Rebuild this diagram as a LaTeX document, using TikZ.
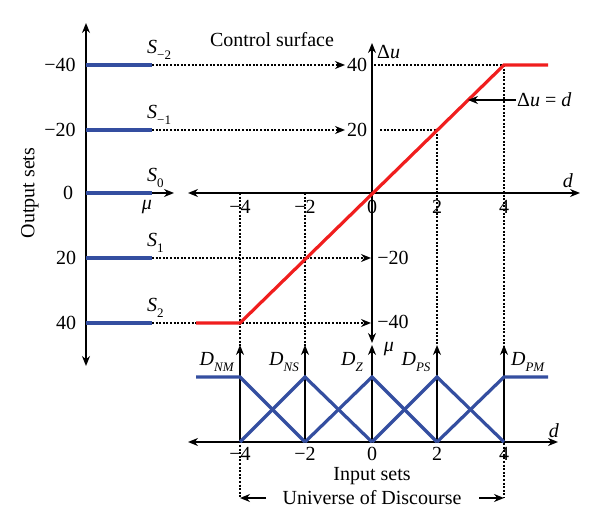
\documentclass[tikz,border=0pt]{standalone}
\usepackage{fontspec}
\setmainfont{Liberation Serif}
\usetikzlibrary{arrows.meta}
\newcommand\lowsub[1]{\raisebox{-0.3em}{\fontsize{13}{14}\selectfont #1}}
\begin{document}
\begin{tikzpicture}[x=1pt,y=-1pt,
  axis/.style={line width=1.6pt,{Stealth[length=10pt,width=8pt]}-{Stealth[length=10pt,width=8pt]}},
  arr/.style={line width=1.6pt,-{Stealth[length=10pt,width=8pt]}},
  dots/.style={line width=1.5pt,dash pattern=on 2pt off 1.6pt},
  dotarr/.style={dots,-{Stealth[length=10pt,width=8pt]}},
  bluel/.style={line width=3.2pt,color={rgb,255:red,52;green,78;blue,160}},
  redl/.style={line width=3.2pt,color={rgb,255:red,240;green,30;blue,30}},
  lbl/.style={font=\fontsize{20}{22}\selectfont,inner sep=1pt}]
\useasboundingbox (0,0) rectangle (600,526);
% coordinates
\foreach \n/\y in {a/65,b/130,c/193,d/258,e/323}{
  \coordinate (L\n) at (86,\y);
  \coordinate (B\n) at (152,\y);
}
\coordinate (Ltop) at (86,23);
\coordinate (Lbot) at (86,366);
\foreach \n/\x in {m/240,n/305,z/372,p/437,q/504}{
  \coordinate (T\n) at (\x,193);
  \coordinate (A\n) at (\x,442);
  \coordinate (H\n) at (\x,345);
  \coordinate (P\n) at (\x,377);
  \coordinate (U\n) at (\x,498);
}
% left axis
\draw[axis] (Lbot) -- (Ltop);
% blue output sets
\foreach \n in {a,b,c,d,e}{\draw[bluel] (L\n) -- (B\n);}
\coordinate (mutip) at (174,193);
\draw[arr] (Bc) -- (mutip);
% main axes
\coordinate (dl) at (188,193);
\coordinate (dr) at (580,193);
\draw[axis] (dl) -- (dr);
\coordinate (dutop) at (372,43);
\coordinate (dubot) at (372,343);
\draw[axis] (dubot) -- (dutop);
% bottom axis
\coordinate (bl) at (188,442);
\coordinate (br) at (558,442);
\draw[axis] (bl) -- (br);
\foreach \n in {m,n,z,p,q}{\draw[arr] (A\n) -- (H\n);}
% dotted verticals
\draw[dots] (Tm) -- (Um);
\draw[dots] (Tn) -- (An);
\coordinate (v20) at (437,130);
\coordinate (v40) at (504,65);
\draw[dots] (v20) -- (Hp);
\draw[dots] (v40) -- (Uq);
% dotted horizontals
\coordinate (ta) at (345,65);
\coordinate (tb) at (345,130);
\coordinate (td) at (371,258);
\coordinate (te) at (371,323);
\draw[dotarr] (Ba) -- (ta);
\draw[dotarr] (Bb) -- (tb);
\draw[dotarr] (Bd) -- (td);
\draw[dotarr] (Be) -- (te);
\coordinate (sa) at (374,65);
\coordinate (sb) at (380,130);
\draw[dots] (sa) -- (v40);
\draw[dots] (sb) -- (v20);
% red control surface
\coordinate (r0) at (196,323);
\coordinate (r1) at (240,323);
\coordinate (r2) at (504,65);
\coordinate (r3) at (548,65);
\draw[redl] (r0) -- (r1) -- (r2) -- (r3);
% blue membership functions
\coordinate (pl) at (196,377);
\coordinate (pr) at (548,377);
\draw[bluel] (pl) -- (Pm) -- (An);
\draw[bluel] (Am) -- (Pn) -- (Az);
\draw[bluel] (An) -- (Pz) -- (Ap);
\draw[bluel] (Az) -- (Pp) -- (Aq);
\draw[bluel] (Ap) -- (Pq) -- (pr);
% left labels
\node[lbl] (n1) at (60,65) {−40};
\node[lbl] (n2) at (60,130) {−20};
\node[lbl] (n3) at (68,193) {0};
\node[lbl] (n4) at (66,258) {20};
\node[lbl] (n5) at (66,323) {40};
\node[lbl,rotate=90] (os) at (30,193) {Output sets};
\node[lbl,anchor=west] (s1) at (146,50) {\textit{S}\lowsub{−2}};
\node[lbl,anchor=west] (s2) at (146,115) {\textit{S}\lowsub{−1}};
\node[lbl,anchor=west] (s3) at (146,178) {\textit{S}\lowsub{0}};
\node[lbl,anchor=west] (s4) at (146,243) {\textit{S}\lowsub{1}};
\node[lbl,anchor=west] (s5) at (146,308) {\textit{S}\lowsub{2}};
\node[lbl] (mu1) at (147,207) {\textit{μ}};
\node[lbl] (cs) at (272,40) {Control surface};
\node[lbl,anchor=west] (du) at (376,52) {Δ\textit{u}};
\node[lbl] (c40) at (357,65) {40};
\node[lbl] (c20) at (357,130) {20};
\node[lbl] (cm20) at (393,258) {−20};
\node[lbl] (cm40) at (393,322) {−40};
\node[lbl] (mu2) at (389,349) {\textit{μ}};
\node[lbl] (dlab) at (568,181) {\textit{d}};
\foreach \n/\t in {m/−4,n/−2,z/0,p/2,q/4}{
  \node[lbl] (tk\n) at ([yshift=-14pt]T\n) {\t};
  \node[lbl] (bk\n) at ([yshift=-12pt]A\n) {\t};
}
\node[lbl] (dlab2) at (554,431) {\textit{d}};
% delta u = d
\node[lbl,anchor=west] (eq) at (516,100) {Δ\textit{u} = \textit{d}};
\coordinate (eqtip) at (468,100);
\draw[arr] (eq.west) -- (eqtip);
% membership labels
\node[lbl] (dnm) at (217,362) {\textit{D}\lowsub{\textit{NM}}};
\node[lbl] (dns) at (284,362) {\textit{D}\lowsub{\textit{NS}}};
\node[lbl] (dz) at (352,362) {\textit{D}\lowsub{\textit{Z}}};
\node[lbl] (dps) at (416,362) {\textit{D}\lowsub{\textit{PS}}};
\node[lbl] (dpm) at (528,362) {\textit{D}\lowsub{\textit{PM}}};
% bottom texts
\node[lbl] (is) at (372,476) {Input sets};
\node[lbl] (ud) at (372,498) {Universe of Discourse};
\coordinate (ua) at (266,498);
\coordinate (ub) at (479,498);
\draw[arr] (ua) -- (Um);
\draw[arr] (ub) -- (Uq);
\end{tikzpicture}
\end{document}
